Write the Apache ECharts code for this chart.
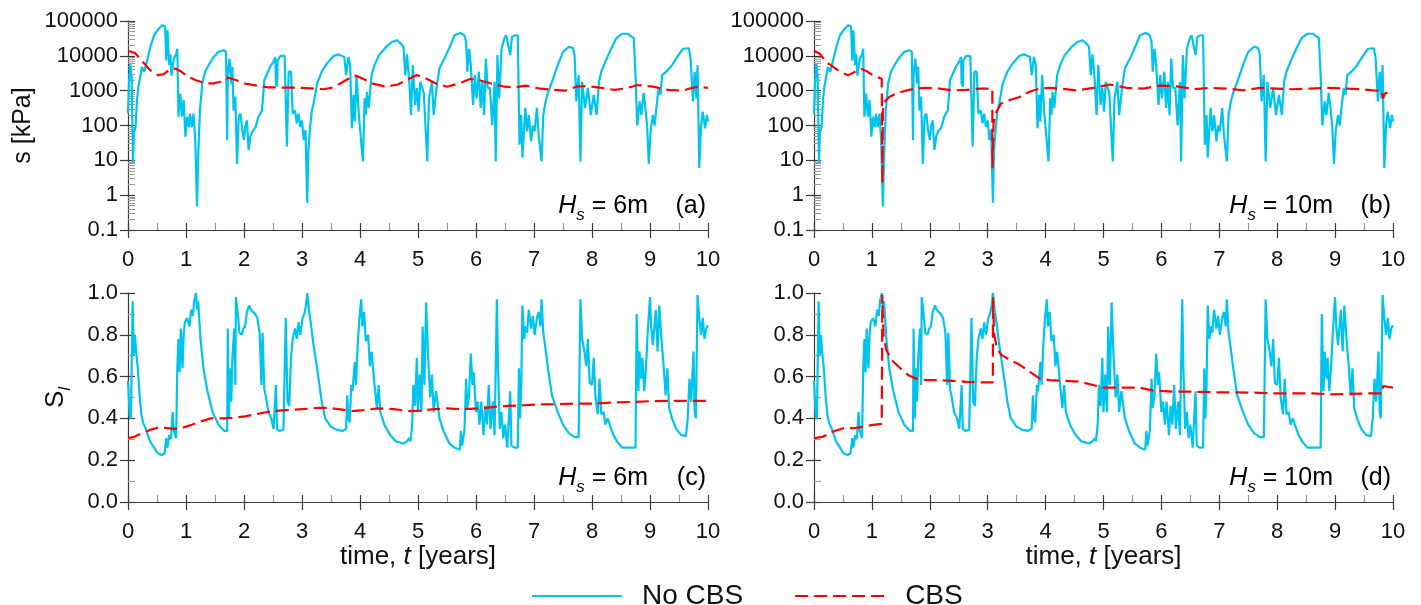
<!DOCTYPE html>
<html><head><meta charset="utf-8">
<script src="https://cdn.jsdelivr.net/npm/echarts@6/dist/echarts.min.js"></script>
<style>html,body{margin:0;padding:0;background:#fff}#c{width:1421px;height:605px}</style>
</head><body><div id="c"></div>
<script>
// ---- data: [time (years), value] ----
const sNoCbs = [[0,220],[0.017,1600],[0.04,6000],[0.063,2500],[0.086,9],[0.1,60],[0.13,90],[0.155,540],[0.18,1300],[0.21,2500],[0.24,4800],[0.28,3500],[0.33,7400],[0.385,18000],[0.45,39000],[0.53,60000],[0.59,75000],[0.64,70000],[0.66,7400],[0.68,54000],[0.71,5400],[0.73,11000],[0.75,2700],[0.79,8300],[0.83,11000],[0.85,16000],[0.87,180],[0.9,830],[0.93,180],[0.96,540],[0.99,48],[1.02,180],[1.05,90],[1.07,220],[1.1,90],[1.13,220],[1.16,38],[1.19,0.47],[1.21,13],[1.24,270],[1.28,1600],[1.33,3500],[1.39,5400],[1.48,9300],[1.56,13000],[1.65,14500],[1.69,13000],[1.71,38],[1.72,3100],[1.75,8300],[1.78,1600],[1.8,4800],[1.82,270],[1.85,680],[1.88,8],[1.91,180],[1.94,220],[1.97,74],[2.0,38],[2.02,90],[2.05,140],[2.08,20],[2.11,48],[2.14,66],[2.2,90],[2.25,180],[2.31,270],[2.35,2000],[2.4,3100],[2.45,4800],[2.51,6800],[2.54,9300],[2.55,1600],[2.57,1300],[2.58,7400],[2.63,10000],[2.7,10000],[2.72,9300],[2.74,25],[2.77,3500],[2.81,3500],[2.84,220],[2.88,270],[2.91,115],[2.94,220],[2.97,90],[3.0,140],[3.03,38],[3.06,74],[3.09,0.6],[3.11,20],[3.14,90],[3.17,270],[3.2,430],[3.26,1600],[3.34,3500],[3.43,6000],[3.55,10000],[3.63,11000],[3.73,9300],[3.76,2800],[3.8,9300],[3.83,5400],[3.86,83],[3.89,760],[3.91,130],[3.94,2800],[3.98,200],[4.05,9.3],[4.08,600],[4.1,200],[4.12,930],[4.15,320],[4.2,2800],[4.25,5400],[4.33,10500],[4.45,18000],[4.55,25000],[4.64,28000],[4.71,22000],[4.75,18000],[4.78,2800],[4.81,11000],[4.85,1800],[4.88,200],[4.91,5400],[4.95,390],[4.98,1200],[5.01,250],[5.04,1800],[5.1,870],[5.16,9.3],[5.19,600],[5.24,1800],[5.27,200],[5.32,1200],[5.37,4400],[5.47,9300],[5.57,22000],[5.63,39000],[5.73,45000],[5.8,39000],[5.83,25000],[5.85,3500],[5.88,16000],[5.91,5400],[5.95,390],[5.98,2800],[6.01,600],[6.05,3500],[6.08,320],[6.11,1800],[6.14,200],[6.17,8300],[6.2,1200],[6.24,1200],[6.28,100],[6.32,1800],[6.34,9.3],[6.37,10500],[6.4,600],[6.44,16000],[6.49,32000],[6.52,39000],[6.55,43000],[6.59,10500],[6.62,35000],[6.68,39000],[6.72,39000],[6.75,28],[6.78,200],[6.8,12],[6.85,320],[6.88,68],[6.91,200],[6.95,35],[6.98,100],[7.01,68],[7.05,320],[7.08,54],[7.13,9.3],[7.16,200],[7.2,490],[7.24,870],[7.31,1800],[7.41,5400],[7.5,13000],[7.6,18000],[7.67,17000],[7.7,10500],[7.73,490],[7.77,2800],[7.8,9.3],[7.83,1800],[7.88,320],[7.93,1200],[7.98,200],[8.03,760],[8.08,200],[8.12,1800],[8.16,3500],[8.23,6800],[8.33,16000],[8.42,32000],[8.52,43000],[8.62,43000],[8.72,32000],[8.75,2800],[8.78,100],[8.82,490],[8.85,200],[8.89,870],[8.92,320],[8.95,100],[8.98,8],[9.01,68],[9.05,200],[9.08,100],[9.11,320],[9.15,1200],[9.18,760],[9.21,2800],[9.28,3500],[9.38,5400],[9.47,9300],[9.57,16000],[9.67,16500],[9.7,8300],[9.74,490],[9.77,3500],[9.8,600],[9.82,5400],[9.85,6],[9.88,100],[9.91,250],[9.95,83],[9.98,200],[10,130]];
const sCbs6 = [[0,14000],[0.12,12000],[0.25,6800],[0.38,3900],[0.51,2800],[0.61,2950],[0.71,3900],[0.81,4300],[0.91,3600],[1.04,2500],[1.17,2000],[1.3,1700],[1.46,1600],[1.6,1800],[1.73,2350],[1.83,2100],[2.02,1600],[2.22,1400],[2.42,1250],[2.61,1230],[2.88,1230],[3.14,1170],[3.37,1100],[3.53,1230],[3.66,1600],[3.8,2200],[3.93,2700],[4.06,2150],[4.22,1600],[4.45,1300],[4.65,1500],[4.85,2200],[4.98,2800],[5.11,2350],[5.31,1600],[5.5,1300],[5.7,1600],[5.9,2150],[6.06,2000],[6.26,1600],[6.49,1300],[6.68,1250],[6.85,1400],[7.08,1170],[7.34,1050],[7.54,1000],[7.73,1300],[7.9,1350],[8.13,1230],[8.39,1050],[8.59,1170],[8.79,1450],[9.05,1300],[9.31,1050],[9.57,1000],[9.7,1170],[9.84,1300],[10,1200]];
const sCbs10 = [[0,14000],[0.1,11500],[0.21,6700],[0.33,4800],[0.45,3500],[0.59,2750],[0.71,3500],[0.82,4200],[0.91,3600],[1.02,2750],[1.17,2200],[1.18,2000],[1.181,2.2],[1.19,270],[1.22,480],[1.3,660],[1.42,830],[1.59,1000],[1.76,1150],[1.94,1200],[2.17,1150],[2.4,1020],[2.63,1050],[2.86,1150],[3.08,1150],[3.081,5.9],[3.1,115],[3.15,245],[3.23,430],[3.38,540],[3.55,660],[3.72,930],[3.9,1150],[4.07,1200],[4.25,1150],[4.54,1020],[4.82,1200],[5.11,1500],[5.4,1200],[5.69,1150],[5.98,1400],[6.27,1330],[6.55,1100],[6.84,1200],[7.13,1150],[7.41,1020],[7.7,1200],[7.99,1150],[8.27,1100],[8.56,1150],[8.85,1200],[9.14,1150],[9.43,1100],[9.66,1020],[9.8,1000],[9.83,600],[9.86,830],[10,1000]];
const slNoCbs = [[0,0.58],[0.03,0.41],[0.05,0.40],[0.08,0.96],[0.1,0.70],[0.12,0.80],[0.14,0.72],[0.17,0.64],[0.2,0.51],[0.23,0.42],[0.26,0.38],[0.32,0.34],[0.38,0.29],[0.45,0.26],[0.51,0.233],[0.58,0.225],[0.63,0.233],[0.66,0.305],[0.68,0.26],[0.71,0.32],[0.74,0.30],[0.77,0.43],[0.79,0.34],[0.83,0.305],[0.85,0.64],[0.87,0.78],[0.89,0.62],[0.91,0.83],[0.94,0.64],[0.96,0.80],[0.98,0.86],[1.02,0.88],[1.06,0.84],[1.09,0.92],[1.12,0.89],[1.14,0.96],[1.17,1.0],[1.19,0.92],[1.21,0.96],[1.25,0.78],[1.3,0.64],[1.37,0.53],[1.46,0.43],[1.56,0.37],[1.66,0.34],[1.71,0.34],[1.72,0.83],[1.74,0.40],[1.76,0.64],[1.78,0.48],[1.8,0.69],[1.83,0.83],[1.85,0.56],[1.86,0.98],[1.89,0.91],[1.92,0.81],[1.96,0.80],[1.99,0.83],[2.02,0.84],[2.05,0.91],[2.09,0.94],[2.12,0.92],[2.15,0.91],[2.19,0.90],[2.23,0.88],[2.27,0.81],[2.3,0.56],[2.32,0.81],[2.35,0.54],[2.38,0.50],[2.42,0.43],[2.47,0.40],[2.51,0.35],[2.55,0.56],[2.57,0.35],[2.61,0.34],[2.68,0.345],[2.72,0.88],[2.75,0.48],[2.78,0.46],[2.81,0.69],[2.84,0.78],[2.88,0.83],[2.91,0.78],[2.94,0.86],[2.97,0.80],[3.01,0.88],[3.04,0.90],[3.07,0.94],[3.09,1.0],[3.12,0.92],[3.15,0.86],[3.2,0.75],[3.27,0.62],[3.34,0.48],[3.4,0.40],[3.5,0.36],[3.6,0.345],[3.7,0.34],[3.76,0.35],[3.78,0.51],[3.8,0.40],[3.82,0.38],[3.85,0.56],[3.87,0.53],[3.91,0.67],[3.93,0.56],[3.96,0.75],[3.99,0.88],[4.02,0.97],[4.04,0.84],[4.07,0.91],[4.1,0.77],[4.14,0.80],[4.17,0.65],[4.2,0.72],[4.25,0.56],[4.29,0.45],[4.32,0.56],[4.35,0.43],[4.42,0.37],[4.52,0.32],[4.62,0.29],[4.75,0.28],[4.81,0.29],[4.85,0.305],[4.87,0.29],[4.9,0.37],[4.92,0.56],[4.95,0.46],[4.98,0.69],[5.0,0.43],[5.03,0.61],[5.06,0.43],[5.08,0.84],[5.11,0.56],[5.14,0.955],[5.17,0.72],[5.21,0.50],[5.24,0.61],[5.27,0.43],[5.31,0.53],[5.37,0.40],[5.44,0.34],[5.54,0.28],[5.63,0.26],[5.72,0.25],[5.74,0.34],[5.76,0.27],[5.8,0.34],[5.83,0.59],[5.85,0.45],[5.88,0.51],[5.91,0.71],[5.94,0.56],[5.96,0.62],[6.0,0.43],[6.03,0.48],[6.06,0.37],[6.09,0.48],[6.13,0.32],[6.16,0.46],[6.19,0.37],[6.22,0.56],[6.25,0.35],[6.29,0.48],[6.32,0.32],[6.36,0.97],[6.38,0.64],[6.41,0.35],[6.44,0.43],[6.47,0.305],[6.5,0.37],[6.54,0.26],[6.59,0.53],[6.61,0.27],[6.66,0.26],[6.72,0.26],[6.74,0.64],[6.76,0.40],[6.78,0.56],[6.8,0.94],[6.83,0.78],[6.86,0.84],[6.88,0.81],[6.91,0.92],[6.95,0.83],[6.98,0.89],[7.01,0.80],[7.05,0.88],[7.08,0.91],[7.11,0.84],[7.13,0.97],[7.16,0.81],[7.2,0.73],[7.24,0.64],[7.31,0.51],[7.41,0.43],[7.5,0.37],[7.6,0.33],[7.7,0.31],[7.77,0.31],[7.8,0.97],[7.83,0.78],[7.87,0.72],[7.9,0.65],[7.93,0.78],[7.96,0.57],[8.0,0.56],[8.03,0.69],[8.06,0.50],[8.1,0.42],[8.13,0.59],[8.16,0.42],[8.2,0.43],[8.23,0.37],[8.27,0.40],[8.33,0.35],[8.37,0.32],[8.43,0.29],[8.52,0.26],[8.66,0.26],[8.75,0.26],[8.77,0.90],[8.8,0.53],[8.82,0.72],[8.85,0.59],[8.87,0.69],[8.9,0.53],[8.93,0.64],[8.96,0.81],[9.0,0.98],[9.02,0.84],[9.05,0.75],[9.1,0.92],[9.13,0.72],[9.16,0.94],[9.2,0.77],[9.23,0.67],[9.27,0.51],[9.3,0.64],[9.33,0.45],[9.38,0.40],[9.45,0.35],[9.54,0.32],[9.62,0.315],[9.65,0.40],[9.68,0.59],[9.71,0.48],[9.75,0.72],[9.77,0.43],[9.79,0.40],[9.82,0.99],[9.85,0.88],[9.88,0.80],[9.91,0.88],[9.94,0.78],[9.97,0.83],[10,0.845]];
const slCbs6 = [[0,0.305],[0.12,0.313],[0.25,0.33],[0.38,0.345],[0.51,0.355],[0.64,0.355],[0.81,0.35],[0.94,0.355],[1.1,0.37],[1.27,0.387],[1.43,0.40],[1.63,0.40],[1.83,0.403],[2.02,0.41],[2.28,0.424],[2.48,0.435],[2.74,0.44],[3.0,0.444],[3.27,0.45],[3.47,0.45],[3.66,0.443],[3.86,0.435],[4.06,0.44],[4.32,0.448],[4.58,0.444],[4.85,0.435],[5.04,0.437],[5.24,0.443],[5.5,0.448],[5.76,0.444],[6.03,0.448],[6.29,0.454],[6.55,0.46],[6.82,0.463],[7.08,0.467],[7.41,0.468],[7.73,0.471],[8.06,0.471],[8.39,0.476],[8.72,0.479],[9.05,0.483],[9.38,0.484],[9.7,0.484],[10,0.484]];
const slCbs10 = [[0,0.305],[0.16,0.313],[0.33,0.337],[0.51,0.353],[0.68,0.353],[0.85,0.36],[1.02,0.369],[1.17,0.374],[1.18,0.99],[1.2,0.79],[1.25,0.727],[1.34,0.68],[1.49,0.64],[1.63,0.607],[1.77,0.59],[1.94,0.583],[2.17,0.583],[2.4,0.58],[2.63,0.575],[2.87,0.572],[3.09,0.572],[3.091,0.98],[3.11,0.806],[3.16,0.735],[3.24,0.703],[3.38,0.68],[3.56,0.655],[3.73,0.623],[3.9,0.59],[4.07,0.583],[4.31,0.58],[4.6,0.575],[4.82,0.56],[5.0,0.547],[5.28,0.547],[5.63,0.547],[5.86,0.533],[6.2,0.528],[6.55,0.528],[6.9,0.525],[7.24,0.525],[7.59,0.523],[7.93,0.52],[8.28,0.52],[8.62,0.52],[8.91,0.515],[9.26,0.517],[9.6,0.52],[9.82,0.52],[9.83,0.555],[10,0.547]];
const logMinorTicks = [0.2,0.3,0.4,0.5,0.6,0.7,0.8,0.9,2,3,4,5,6,7,8,9,20,30,40,50,60,70,80,90,200,300,400,500,600,700,800,900,2000,3000,4000,5000,6000,7000,8000,9000,20000,30000,40000,50000,60000,70000,80000,90000];
const hsLabels = ['6m','10m','6m','10m'];
const panelTags = ['(a)','(b)','(c)','(d)'];
const seriesNames = ['No CBS','CBS'];

const FONT = '"Liberation Sans", Arial, sans-serif';
const AX = '#3a3a3a';
const MINOR = '#9a9a9a';
const CYAN = '#00C4EE';
const RED = '#FF0000';

const grids = [
  {left:128, top:21, width:580, height:209},
  {left:814, top:21, width:579, height:209},
  {left:128, top:293, width:580, height:209},
  {left:814, top:293, width:579, height:209}
];
const panels = [
  {log:true, cyan:sNoCbs, red:sCbs6, yName:'s [kPa]', xName:false},
  {log:true, cyan:sNoCbs, red:sCbs10, yName:'', xName:false},
  {log:false, cyan:slNoCbs, red:slCbs6, yName:'{a|S}{b|l}', xName:true},
  {log:false, cyan:slNoCbs, red:slCbs10, yName:'', xName:true}
];

const xAxis = [], yAxis = [], series = [], graphic = [];
const labelStyle = {fontSize:22, color:'#111', fontFamily:FONT};
panels.forEach((p, i) => {
  const xi = xAxis.length;
  xAxis.push({
    gridIndex:i, type:'value', position:'bottom', min:0, max:10, interval:1,
    axisLine:{show:true, lineStyle:{color:AX, width:1.2}},
    axisTick:{show:true, length:8, lineStyle:{color:AX, width:1.2}},
    axisLabel:Object.assign({margin:19}, labelStyle),
    splitLine:{show:false},
    name: p.xName ? '{n|time, }{i|t}{n| [years]}' : '',
    nameLocation:'middle', nameGap:42,
    nameTextStyle:{rich:{n:{fontSize:26, fontFamily:FONT, color:'#111'}, i:{fontSize:26, fontFamily:FONT, fontStyle:'italic', color:'#111'}}}
  });
  xAxis.push({
    gridIndex:i, type:'value', position:'bottom', min:0, max:10, interval:1,
    axisLine:{show:false},
    axisTick:{show:true, inside:true, length:7, lineStyle:{color:AX, width:1.2}},
    minorTick:{show:true, splitNumber:2, length:7, lineStyle:{color:MINOR, width:1.2}},
    axisLabel:{show:false}, splitLine:{show:false}, minorSplitLine:{show:false}
  });
  const yi = yAxis.length;
  const yBase = p.log ? {type:'log', logBase:10, min:0.1, max:100000, splitNumber:6}
                      : {type:'value', min:0, max:1, interval:0.2};
  yAxis.push(Object.assign({
    gridIndex:i, position:'left',
    axisLine:{show:true, lineStyle:{color:AX, width:1.2}},
    axisTick:{show:true, length:8, lineStyle:{color:AX, width:1.2}},
    axisLabel:Object.assign({margin:10, formatter: v => p.log ? String(+(+v).toPrecision(8)) : (+v).toFixed(1)}, labelStyle),
    splitLine:{show:false},
    name:p.yName, nameLocation:'middle', nameRotate:90, nameGap: p.log ? 92 : 54,
    nameTextStyle:{fontSize:25, fontFamily:FONT, color:'#111',
      rich:{a:{fontSize:26, fontFamily:FONT, color:'#111'}, b:{fontSize:17, fontFamily:FONT, fontStyle:'italic', color:'#111', verticalAlign:'bottom', lineHeight:36}}}
  }, yBase));
  yAxis.push(Object.assign({
    gridIndex:i, position:'left', axisLine:{show:false},
    axisTick:{show:true, inside:true, length:7, lineStyle:{color:AX, width:1.2}},
    minorTick:{show:!p.log, splitNumber:2, length:7, lineStyle:{color:MINOR, width:1.2}},
    axisLabel:{show:false}, splitLine:{show:false}, minorSplitLine:{show:false}
  }, yBase));
  if (p.log) {
    yAxis.push(Object.assign({
      gridIndex:i, position:'left', axisLine:{show:false},
      axisTick:{show:true, inside:true, length:7, customValues:logMinorTicks, lineStyle:{color:MINOR, width:1}},
      axisLabel:{show:false}, splitLine:{show:false}
    }, yBase));
  }
  series.push({
    type:'line', name:seriesNames[0], xAxisIndex:xi, yAxisIndex:yi, data:p.cyan,
    symbol:'none', showSymbol:false, animation:false, z:2,
    lineStyle:{color:CYAN, width:2.2}, itemStyle:{color:CYAN}
  });
  series.push({
    type:'line', name:seriesNames[1], xAxisIndex:xi, yAxisIndex:yi, data:p.red,
    symbol:'none', showSymbol:false, animation:false, z:3,
    lineStyle:{color:RED, width:2.2, type:[13,6]}, itemStyle:{color:RED}
  });
  const g = grids[i];
  const right = g.left + g.width - 2;
  const cy = g.top + g.height - 24;
  const rich = {
    i:{fontSize:25, fontFamily:FONT, fontStyle:'italic', color:'#111', lineHeight:36},
    s:{fontSize:17, fontFamily:FONT, fontStyle:'italic', color:'#111', verticalAlign:'bottom', lineHeight:36},
    n:{fontSize:25, fontFamily:FONT, color:'#111', lineHeight:36}
  };
  graphic.push({type:'text', x:right - 58, y:cy, style:{text:'{i|H}{s|s}{n| = ' + hsLabels[i] + '}', align:'right', verticalAlign:'middle', rich}});
  graphic.push({type:'text', x:right, y:cy, style:{text:'{n|' + panelTags[i] + '}', align:'right', verticalAlign:'middle', rich}});
});

const chart = echarts.init(document.getElementById('c'), null, {renderer:'canvas'});
chart.setOption({
  animation:false,
  backgroundColor:'#fff',
  grid:grids,
  xAxis, yAxis, series, graphic,
  legend:{
    data:seriesNames, left:526, top:577, itemWidth:90, itemHeight:14, itemGap:51,
    itemStyle:{opacity:0},
    textStyle:{fontSize:28, fontFamily:FONT, color:'#111', padding:[0,0,0,15]}
  }
});
</script></body></html>
